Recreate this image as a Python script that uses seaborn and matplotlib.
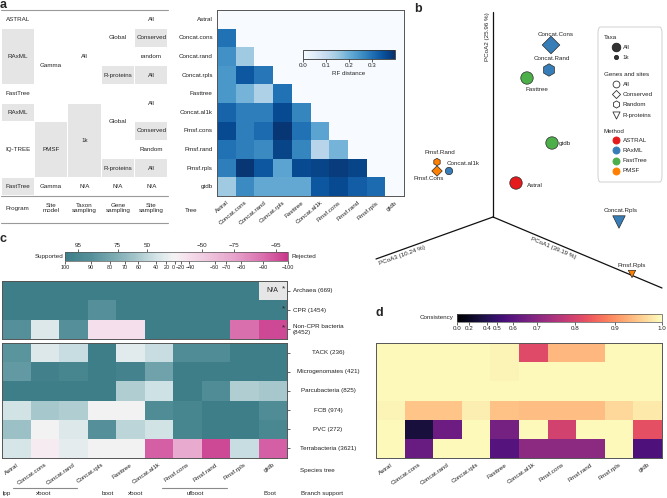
import numpy as np
import pandas as pd
import seaborn as sns
import matplotlib.pyplot as plt
import matplotlib.transforms as mtransforms
from matplotlib.colors import LinearSegmentedColormap, Normalize
from matplotlib.cm import ScalarMappable
from matplotlib.patches import Rectangle, FancyBboxPatch

sns.set_style('white')
plt.rcParams['font.family'] = ['Liberation Sans', 'DejaVu Sans']
plt.rcParams['font.size'] = 4.5
plt.rcParams['axes.linewidth'] = 0.7

# ---------------- data ----------------
trees = ['Astral', 'Concat.cons', 'Concat.rand', 'Concat.rpls', 'Fasttree',
         'Concat.al1k', 'Pmsf.cons', 'Pmsf.rand', 'Pmsf.rpls', 'gtdb']

# a) RF distances, lower triangle
rf_lower = [
    [],
    [0.30],
    [0.25, 0.15],
    [0.24, 0.34, 0.29],
    [0.24, 0.19, 0.13, 0.30],
    [0.32, 0.28, 0.28, 0.36, 0.27],
    [0.36, 0.28, 0.31, 0.39, 0.30, 0.22],
    [0.30, 0.28, 0.26, 0.37, 0.27, 0.12, 0.19],
    [0.28, 0.39, 0.34, 0.22, 0.36, 0.37, 0.38, 0.37],
    [0.15, 0.26, 0.21, 0.21, 0.21, 0.34, 0.36, 0.33, 0.31],
]

# a) table: (text, first row, last row, shaded)
tab_headers = ['Program', 'Site\nmodel', 'Taxon\nsampling', 'Gene\nsampling', 'Site\nsampling']
tab_program = [('ASTRAL', 0, 1, False), ('RAxML', 1, 4, True), ('FastTree', 4, 5, False),
               ('RAxML', 5, 6, True), ('IQ-TREE', 6, 9, False), ('FastTree', 9, 10, True)]
tab_model = [('Gamma', 0, 6, False), ('PMSF', 6, 9, True), ('Gamma', 9, 10, False)]
tab_taxon = [('All', 0, 5, False), ('1k', 5, 9, True), ('N/A', 9, 10, False)]
tab_gene = [('Global', 0, 3, False), ('R-proteins', 3, 4, True), ('Global', 4, 8, False),
            ('R-proteins', 8, 9, True), ('N/A', 9, 10, False)]
tab_site = [('All', 0, 1, False), ('Conserved', 1, 2, True), ('random', 2, 3, False),
            ('All', 3, 4, True), ('All', 4, 6, False), ('Conserved', 6, 7, True),
            ('Random', 7, 8, False), ('All', 8, 9, True), ('N/A', 9, 10, False)]

# b) PCoA (projected coordinates)
pc_names = ['Concat.Cons', 'Concat.Rand', 'Fasttree', 'gtdb', 'Astral',
            'Concat.Rpls', 'Pmsf.Rpls', 'Pmsf.Rand', 'Pmsf.Cons', 'Concat.al1k']
pc_x = [58, 56, 34, 59, 23, 126, 139, -56, -56, -44]
pc_y = [172, 147, 139, 74, 34, -5, -57, 55, 46, 46]
pc_method = ['RAxML', 'RAxML', 'FastTree', 'FastTree', 'ASTRAL',
             'RAxML', 'PMSF', 'PMSF', 'PMSF', 'RAxML']
pc_genes = ['Conserved', 'Random', 'All', 'All', 'All',
            'R-proteins', 'R-proteins', 'Random', 'Conserved', 'All']
pc_taxa = ['All', 'All', 'All', 'All', 'All', 'All', '1k', '1k', '1k', '1k']

# c) support values (100 = supported ... -100 = rejected)
c_top_rows = ['Archaea (669)', 'CPR (1454)', 'Non-CPR bacteria\n(8452)']
c_top = [
    [100, 100, 100, 100, 100, 100, 100, 100, 100, np.nan],
    [100, 100, 100, 90, 100, 100, 100, 100, 100, 100],
    [90, 30, 90, -40, -40, 100, 100, 100, -90, -97],
]
c_bot_rows = ['TACK (236)', 'Microgenomates (421)', 'Parcubacteria (825)',
              'FCB (974)', 'PVC (272)', 'Terrabacteria (3621)']
c_bot = [
    [88, 30, 45, 100, 25, 45, 92, 92, 100, 100],
    [86, 98, 96, 100, 97, 82, 100, 100, 100, 100],
    [100, 100, 100, 100, 58, 42, 100, 92, 58, 62],
    [40, 62, 58, 3, 3, 92, 96, 100, 100, 92],
    [66, 3, 30, 90, 52, 40, 96, 100, 100, 95],
    [38, -15, 22, 3, 3, -93, -72, -97, 45, -93],
]
c_tick_vals = [100, 90, 80, 70, 60, 40, 20, 0, -20, -40, -60, -70, -80, -90, -100]
c_tick_pos = [0, 0.115, 0.202, 0.269, 0.329, 0.41, 0.455, 0.493, 0.52, 0.554,
              0.672, 0.724, 0.79, 0.888, 1.0]
c_top_ticks = [95, 75, 50, -50, -75, -95]
support_labels = ['lpp', 'xboot', 'boot', 'xboot', 'ufboot', 'Boot']

# d) consistency
d_vals = [
    [0.995, 0.995, 0.995, 0.995, 0.99, 0.815, 0.935, 0.935, 0.995, 0.995],
    [0.995, 0.995, 0.995, 0.995, 0.99, 0.995, 0.995, 0.995, 0.995, 0.995],
    [0.995, 0.995, 0.995, 0.995, 0.995, 0.995, 0.995, 0.995, 0.995, 0.995],
    [0.99, 0.947, 0.947, 0.985, 0.945, 0.94, 0.94, 0.94, 0.965, 0.98],
    [0.995, 0.32, 0.64, 0.995, 0.657, 0.995, 0.797, 0.995, 0.995, 0.823],
    [0.995, 0.63, 0.995, 0.995, 0.58, 0.706, 0.706, 0.706, 0.995, 0.56],
]
d_tick_vals = [0.0, 0.2, 0.4, 0.5, 0.6, 0.7, 0.8, 0.9, 1.0]
d_tick_pos = [0.0, 0.057, 0.146, 0.194, 0.275, 0.389, 0.575, 0.769, 1.0]

# ---------------- layout helpers ----------------
W, H = 667, 498


def px_box(l, t, r, b):
    return [l / W, 1 - b / H, (r - l) / W, (b - t) / H]


def fx(x):
    return x / W


def fy(y):
    return 1 - y / H


def minus(v):
    return f'{v:g}'.replace('-', '\u2212')


fig = plt.figure(figsize=(6.67, 4.98), dpi=100)
frame_col = '#555555'
tick_kw = dict(length=2, width=0.5, pad=1, colors='#222222')

# ---------------- a: table ----------------
ax_t = fig.add_axes(px_box(1, 10, 168, 223))
ax_t.set_xlim(0, 5)
ax_t.set_ylim(11.45, 0)
ax_t.axis('off')
for ci, col in enumerate([tab_program, tab_model, tab_taxon, tab_gene, tab_site]):
    for label, r0, r1, shaded in col:
        if shaded:
            ax_t.add_patch(Rectangle((ci + 0.015, r0 + 0.03), 0.97, r1 - r0 - 0.06,
                                     fc='#e5e5e5', ec='none'))
        ax_t.text(ci + 0.5, (r0 + r1) / 2, label, ha='center', va='center')
for ci, h in enumerate(tab_headers):
    ax_t.text(ci + 0.5, 10.65, h, ha='center', va='center', linespacing=1.1)
for yl in (0, 10, 11.45):
    ax_t.axhline(yl, color='#9a9a9a', lw=0.8, clip_on=False)

# ---------------- a: RF heatmap ----------------
rf = np.zeros((10, 10))
for i, row in enumerate(rf_lower):
    rf[i, :i] = row
mask = np.triu(np.ones_like(rf, dtype=bool), k=1)
ax_a = fig.add_axes(px_box(217, 10, 404, 196))
cax_a = fig.add_axes(px_box(303, 50, 395, 59))
ax_a.set_facecolor(plt.cm.Blues(0.0))
sns.heatmap(pd.DataFrame(rf, index=trees, columns=trees), mask=mask, cmap='Blues',
            vmin=0, vmax=0.4, ax=ax_a, cbar_ax=cax_a,
            cbar_kws={'orientation': 'horizontal', 'ticks': [0, 0.1, 0.2, 0.3]})
for sp in ax_a.spines.values():
    sp.set_visible(True)
    sp.set_color(frame_col)
ax_a.tick_params(**tick_kw)
ax_a.set_xticks(np.arange(10) + 0.5)
ax_a.set_xticklabels(trees, rotation=40, ha='right', rotation_mode='anchor')
ax_a.set_yticks(np.arange(10) + 0.5)
ax_a.set_yticklabels(trees, rotation=0)
cb_a = ax_a.collections[0].colorbar
cb_a.outline.set_edgecolor('#333333')
cb_a.outline.set_linewidth(0.6)
cax_a.tick_params(**tick_kw)
cax_a.set_xticklabels(['0.0', '0.1', '0.2', '0.3'])
cax_a.set_xlabel('RF distance', labelpad=2)
fig.text(fx(191), fy(211), 'Tree', ha='center', va='center')

# ---------------- b: PCoA ----------------
ax_b = fig.add_axes(px_box(360, 5, 667, 298))
method_pal = {'ASTRAL': '#e41a1c', 'RAxML': '#377eb8', 'FastTree': '#4daf4a', 'PMSF': '#ff7f00'}
gene_markers = {'All': 'o', 'Conserved': 'D', 'Random': 'h', 'R-proteins': 'v'}
taxa_sizes = {'All': 80, '1k': 28}
df_b = pd.DataFrame({'x': pc_x, 'y': pc_y, 'method': pc_method,
                     'genes': pc_genes, 'taxa': pc_taxa})
sns.scatterplot(data=df_b, x='x', y='y', hue='method', style='genes', size='taxa',
                palette=method_pal, markers=gene_markers, sizes=taxa_sizes,
                edgecolor='#2a2a2a', linewidth=0.5, legend=False, ax=ax_b, zorder=3)
ax_b.set_xlim(360 - 493, 667 - 493)
ax_b.set_ylim(217 - 298, 217 - 5)
ax_b.axis('off')
for ex, ey in [(0, 205), (-117, -42), (169, -71)]:
    ax_b.plot([0, ex], [0, ey], color='#111111', lw=0.9)
ax_b.text(-6, 180, 'PCoA2 (25.96 %)', rotation=90, ha='center', va='center')
ax_b.text(-91, -38, 'PCoA3 (10.24 %)', rotation=19.7, ha='center', va='center')
ax_b.text(60, -31, 'PCoA1 (39.19 %)', rotation=-22.8, ha='center', va='center')
lab_off = {'Concat.Cons': (5, 11, 'center'), 'Concat.Rand': (3, 12, 'center'),
           'Fasttree': (10, -11, 'center'), 'gtdb': (7, 0, 'left'),
           'Astral': (11, -2, 'left'), 'Concat.Rpls': (2, 12, 'center'),
           'Pmsf.Rpls': (0, 9, 'center'), 'Pmsf.Rand': (3, 10, 'center'),
           'Pmsf.Cons': (-8, -7, 'center'), 'Concat.al1k': (-2, 8, 'left')}
for n, x, y in zip(pc_names, pc_x, pc_y):
    dx, dy, ha = lab_off[n]
    ax_b.annotate(n, (x, y), xytext=(dx, dy), textcoords='offset pixels',
                  ha=ha, va='center')

# legend
ax_l = fig.add_axes(px_box(598, 27, 662, 182))
ax_l.set_xlim(598, 662)
ax_l.set_ylim(182, 27)
ax_l.axis('off')
ax_l.add_patch(FancyBboxPatch((0, 0), 1, 1, boxstyle='round,pad=0,rounding_size=0.04',
                              transform=ax_l.transAxes, fc='white', ec='#d0d0d0',
                              lw=0.7, clip_on=False))
for txt, yy in [('Taxa', 37), ('Genes and sites', 74), ('Method', 131)]:
    ax_l.text(604, yy, txt, ha='left', va='center')
leg_rows = [('All', 47, 'o', 38, '#333333', '#222222'),
            ('1k', 57, 'o', 9, '#333333', '#222222'),
            ('All', 84, 'o', 24, 'white', '#333333'),
            ('Conserved', 94, 'D', 17, 'white', '#333333'),
            ('Random', 104, 'h', 26, 'white', '#333333'),
            ('R-proteins', 115, 'v', 26, 'white', '#333333')]
for m, c in method_pal.items():
    leg_rows.append((m, 140 + 10.3 * list(method_pal).index(m), 'o', 26, c, c))
for txt, yy, mk, s, fc, ec in leg_rows:
    ax_l.scatter([616], [yy], marker=mk, s=s, fc=fc, ec=ec, lw=0.6, clip_on=False)
    ax_l.text(622.5, yy, txt, ha='left', va='center')

# ---------------- c: support heatmaps ----------------
cmap_c = LinearSegmentedColormap.from_list('support', [
    (0.0, '#3e7e88'), (0.115, '#55909a'), (0.27, '#8fb8be'), (0.41, '#d3e4e7'),
    (0.49, '#f4f3f4'), (0.55, '#f6e0ec'), (0.62, '#f0cce1'), (0.76, '#e6a3cb'),
    (0.89, '#da6fae'), (1.0, '#c8388b')])


def to_u(vals):
    v = np.asarray(vals, dtype=float)
    return np.interp(-v, -np.array(c_tick_vals), c_tick_pos)


u_top = to_u(c_top)
u_top[np.isnan(np.asarray(c_top, dtype=float))] = np.nan
ax_ct = fig.add_axes(px_box(2, 281, 287, 339))
ax_ct.set_facecolor('#e6e6e6')
sns.heatmap(u_top, cmap=cmap_c, vmin=0, vmax=1, cbar=False, ax=ax_ct)
ax_cb = fig.add_axes(px_box(2, 343, 287, 458))
sns.heatmap(to_u(c_bot), cmap=cmap_c, vmin=0, vmax=1, cbar=False, ax=ax_cb)
for ax_, rows_, ha_, pad_ in [(ax_ct, c_top_rows, 'left', 2), (ax_cb, c_bot_rows, 'center', 27.5)]:
    for sp in ax_.spines.values():
        sp.set_visible(True)
        sp.set_color(frame_col)
    ax_.yaxis.tick_right()
    ax_.tick_params(**tick_kw)
    ax_.tick_params(axis='y', pad=pad_)
    ax_.set_yticks(np.arange(len(rows_)) + 0.5)
    ax_.set_yticklabels(rows_, rotation=0, ha=ha_, va='center', linespacing=1.4)
ax_ct.set_xticks([])
ax_ct.text(9.5, 0.5, 'N/A', ha='center', va='center', fontsize=5)
for r in range(3):
    ax_ct.text(9.88, r + 0.42, '*', ha='center', va='center', fontsize=6)
ax_cb.set_xticks(np.arange(10) + 0.5)
ax_cb.set_xticklabels(trees, rotation=35, ha='right', rotation_mode='anchor')

cax_c = fig.add_axes(px_box(65, 252, 288, 261))
cb_c = fig.colorbar(ScalarMappable(norm=Normalize(0, 1), cmap=cmap_c), cax=cax_c,
                    orientation='horizontal')
cb_c.outline.set_edgecolor('#555555')
cb_c.outline.set_linewidth(0.5)
cb_c.set_ticks(c_tick_pos, labels=[minus(v) for v in c_tick_vals])
cax_c.tick_params(**tick_kw)
cax_c.tick_params(labelsize=3.9)
# nudge the crowded labels around zero apart a little
nudge = {'0': -2.0, '\u221220': -0.3, '\u221240': 2.0}
for tl in cax_c.get_xticklabels():
    if tl.get_text() in nudge:
        tl.set_transform(tl.get_transform() + mtransforms.ScaledTranslation(
            nudge[tl.get_text()] / 100, 0, fig.dpi_scale_trans))
sec = cax_c.secondary_xaxis('top')
sec.set_xticks(to_u(c_top_ticks), labels=[minus(v) for v in c_top_ticks])
sec.tick_params(**tick_kw)
sec.spines['top'].set_visible(False)
fig.text(fx(63), fy(256.5), 'Supported', ha='right', va='center')
fig.text(fx(292), fy(256.5), 'Rejected', ha='left', va='center')

# branch support annotations
tr = mtransforms.blended_transform_factory(ax_cb.transData, fig.transFigure)
for lab, xc in zip(support_labels, [0.18, 1.46, 3.72, 4.7, 6.77, 9.4]):
    fig.text(xc, fy(493), lab, ha='center', va='center', transform=tr)
for x0, x1 in [(0.37, 2.62), (5.6, 7.9)]:
    fig.add_artist(plt.Line2D([x0, x1], [fy(488), fy(488)], transform=tr,
                              color='#8a8a8a', lw=0.8))
fig.text(fx(317), fy(470), 'Species tree', ha='center', va='center')
fig.text(fx(322), fy(493), 'Branch support', ha='center', va='center')

# ---------------- d: consistency heatmap ----------------
d_u = np.interp(np.asarray(d_vals), d_tick_vals, d_tick_pos)
ax_d = fig.add_axes(px_box(376, 343, 662, 458))
cax_d = fig.add_axes(px_box(457, 314, 662, 322))
sns.heatmap(d_u, cmap='magma', vmin=0, vmax=1, ax=ax_d, cbar_ax=cax_d,
            cbar_kws={'orientation': 'horizontal'})
for sp in ax_d.spines.values():
    sp.set_visible(True)
    sp.set_color(frame_col)
ax_d.tick_params(**tick_kw)
ax_d.set_yticks(np.arange(6) + 0.5)
ax_d.set_yticklabels([''] * 6)
ax_d.set_xticks(np.arange(10) + 0.5)
ax_d.set_xticklabels(trees, rotation=35, ha='right', rotation_mode='anchor')
cb_d = ax_d.collections[0].colorbar
cb_d.outline.set_edgecolor('#555555')
cb_d.outline.set_linewidth(0.5)
cb_d.set_ticks(d_tick_pos, labels=[f'{v:.1f}' for v in d_tick_vals])
cax_d.tick_params(**tick_kw)
fig.text(fx(453), fy(318), 'Consistency', ha='right', va='center')

# panel letters
for lt, x, y in [('a', 3, 5), ('b', 418, 9), ('c', 3, 239), ('d', 379, 313)]:
    fig.text(fx(x), fy(y), lt, fontsize=9, fontweight='bold', ha='center', va='center')

fig.savefig('out.png', dpi=100)
